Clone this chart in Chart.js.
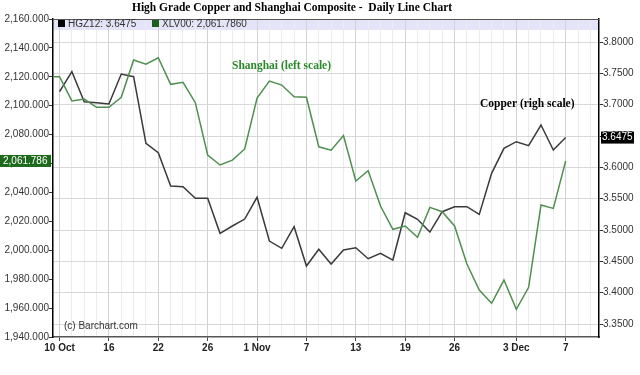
<!DOCTYPE html>
<html>
<head>
<meta charset="utf-8">
<script src="https://cdn.jsdelivr.net/npm/chart.js@4/dist/chart.umd.min.js"></script>
<style>
  body { margin: 0; background: #fff; }
</style>
</head>
<body>
<canvas id="chart" width="640" height="375"></canvas>
<script>
// trading days 10 Oct .. 7 Dec (index 0..41), Shanghai also has 9 Oct
const copper = [3.7207, 3.7526, 3.7047, 3.7031, 3.7010, 3.7489, 3.7446, 3.6383, 3.6233, 3.5702,
  3.5691, 3.5506, 3.5506, 3.4947, 3.5064, 3.5175, 3.5522, 3.4824, 3.4708, 3.5053,
  3.4425, 3.4692, 3.4457, 3.4681, 3.4717, 3.4542, 3.4628, 3.4521, 3.5276, 3.5171,
  3.4968, 3.5292, 3.5372, 3.5372, 3.5250, 3.5905, 3.6304, 3.6409, 3.6345, 3.6675,
  3.6276, 3.6475];
const shanghaiPrev = 2120.1;
const shanghai = [2120.1, 2103.3, 2104.6, 2098.9, 2098.9, 2105.8, 2131.6, 2128.7, 2133.2, 2114.8,
  2116.2, 2102.1, 2065.9, 2059.0, 2062.4, 2070.1, 2105.3, 2117.1, 2114.3, 2106.2,
  2105.8, 2071.6, 2069.2, 2079.4, 2047.9, 2055.0, 2030.6, 2014.5, 2016.8, 2009.0,
  2029.7, 2026.7, 2016.8, 1990.5, 1972.5, 1963.3, 1979.4, 1959.2, 1974.4, 2031.3,
  2029.0, 2061.786];
const tickDays = [0, 4, 8, 12, 16, 20, 24, 28, 32, 37, 41];
const tickLabels = ['10 Oct', '16', '22', '26', '1 Nov', '7', '13', '19', '26', '3 Dec', '7'];
const leftTicks = [1940, 1960, 1980, 2000, 2020, 2040, 2060, 2080, 2100, 2120, 2140, 2160];
const rightTicks = [3.35, 3.40, 3.45, 3.50, 3.55, 3.60, 3.65, 3.70, 3.75, 3.80];

const sans = 'Liberation Sans, Arial, sans-serif';
const serif = 'Liberation Serif, Times New Roman, serif';

const overlay = {
  id: 'overlay',
  beforeDraw(chart) {
    const { ctx, chartArea: a } = chart;
    ctx.save();
    ctx.fillStyle = '#e4e4f8';
    ctx.fillRect(a.left, a.top, a.right - a.left, 11);
    ctx.restore();
  },
  afterDraw(chart) {
    const { ctx, chartArea: a } = chart;
    ctx.save();
    ctx.strokeStyle = '#555';
    ctx.lineWidth = 1;
    ctx.beginPath();
    ctx.moveTo(a.left, a.top + 0.5);
    ctx.lineTo(a.right, a.top + 0.5);
    ctx.stroke();

    // title
    ctx.fillStyle = '#000';
    ctx.font = 'bold 11.5px ' + serif;
    ctx.textAlign = 'center';
    ctx.textBaseline = 'middle';
    ctx.fillText('High Grade Copper and Shanghai Composite -  Daily Line Chart', 292, 8);

    // legend
    ctx.textAlign = 'left';
    ctx.font = '10px ' + sans;
    ctx.fillStyle = '#000';
    ctx.fillRect(58, 20, 7, 7);
    ctx.fillStyle = '#1d5e1d';
    ctx.fillRect(152, 20, 7, 7);
    ctx.fillStyle = '#333';
    ctx.fillText('HGZ12: ' + copper[copper.length - 1].toFixed(4), 68, 24);
    ctx.fillText('XLV00: 2,061.7860', 162, 24);

    // annotations
    ctx.font = 'bold 11.5px ' + serif;
    ctx.fillStyle = '#2a8a2a';
    ctx.fillText('Shanghai (left scale)', 232, 66);
    ctx.fillStyle = '#000';
    ctx.fillText('Copper (righ scale)', 480, 104);

    ctx.font = '10px ' + sans;
    ctx.fillStyle = '#333';
    ctx.fillText('(c) Barchart.com', 64, 326);

    // last value boxes
    const yl = chart.scales.y.getPixelForValue(shanghai[shanghai.length - 1]);
    ctx.fillStyle = '#1d6a1d';
    ctx.fillRect(0, yl - 6, 51, 12);
    ctx.fillStyle = '#fff';
    ctx.fillText('2,061.786', 3, yl);
    const yr = chart.scales.y2.getPixelForValue(copper[copper.length - 1]);
    ctx.fillStyle = '#000';
    ctx.fillRect(601, yr - 6, 33, 12);
    ctx.fillStyle = '#fff';
    ctx.fillText(copper[copper.length - 1].toFixed(4), 602, yr);
    ctx.restore();
  }
};

const copperData = copper.map((v, i) => ({ x: i, y: v }));
const shanghaiData = [{ x: -1, y: shanghaiPrev }].concat(shanghai.map((v, i) => ({ x: i, y: v })));

new Chart(document.getElementById('chart'), {
  type: 'line',
  data: {
    datasets: [{
      label: 'XLV00',
      data: shanghaiData,
      yAxisID: 'y',
      borderColor: '#4f8f4f',
      borderWidth: 1.5,
      pointRadius: 0,
      tension: 0
    }, {
      label: 'HGZ12',
      data: copperData,
      yAxisID: 'y2',
      borderColor: '#3a3a3a',
      borderWidth: 1.5,
      pointRadius: 0,
      tension: 0
    }]
  },
  options: {
    responsive: false,
    animation: false,
    devicePixelRatio: 1,
    layout: { padding: { top: 19, left: 0, right: 0, bottom: 0 } },
    plugins: {
      legend: { display: false },
      tooltip: { enabled: false }
    },
    scales: {
      x: {
        type: 'linear',
        min: -0.53,
        max: 43.7,
        afterBuildTicks: s => {
          const t = [];
          for (let i = 0; i <= 43; i++) t.push({ value: i });
          s.ticks = t;
        },
        afterFit: s => { s.height = 38; },
        grid: {
          color: c => tickDays.includes(c.tick && c.tick.value) ? '#d2d2d2' : '#ececec',
          tickColor: c => tickDays.includes(c.tick && c.tick.value) ? '#444' : 'rgba(0,0,0,0)',
          tickLength: 4
        },
        border: { color: '#555', width: 1.5 },
        ticks: {
          autoSkip: false,
          maxRotation: 0,
          padding: 1,
          color: '#222',
          font: { family: sans, size: 10, weight: 'bold' },
          callback: v => {
            const k = tickDays.indexOf(v);
            return k >= 0 ? tickLabels[k] : '';
          }
        }
      },
      y: {
        position: 'left',
        min: 1940,
        max: 2160,
        afterBuildTicks: s => { s.ticks = leftTicks.map(v => ({ value: v })); },
        afterFit: s => { s.width = 53; },
        grid: { drawOnChartArea: false, tickLength: 4, tickColor: '#333' },
        border: { color: '#000', width: 1.5 },
        ticks: {
          padding: 0,
          color: '#333',
          font: { family: sans, size: 10 },
          callback: v => v.toLocaleString('en-US', { minimumFractionDigits: 3, maximumFractionDigits: 3 })
        }
      },
      y2: {
        position: 'right',
        min: 3.3293,
        max: 3.8367,
        afterBuildTicks: s => { s.ticks = rightTicks.map(v => ({ value: v })); },
        afterFit: s => { s.width = 41; },
        grid: { color: '#d8d8d8', tickLength: 4, tickColor: '#333' },
        border: { color: '#000', width: 1.5 },
        ticks: {
          padding: 0,
          color: '#333',
          font: { family: sans, size: 10 },
          callback: v => v.toFixed(4)
        }
      }
    }
  },
  plugins: [overlay]
});
</script>
</body>
</html>
